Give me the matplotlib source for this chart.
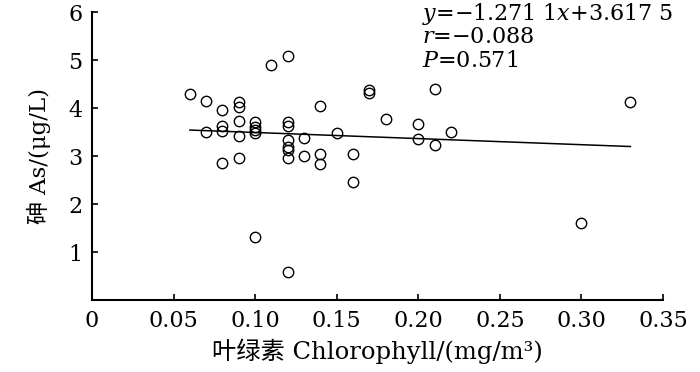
import matplotlib
matplotlib.use('Agg')
from matplotlib import pyplot as plt

plt.rcParams['font.family'] = ['DejaVu Serif', 'Noto Sans CJK SC']
plt.rcParams['mathtext.fontset'] = 'custom'
plt.rcParams['mathtext.it'] = 'DejaVu Serif:italic'
plt.rcParams['mathtext.rm'] = 'DejaVu Serif'

# chlorophyll (mg/m3) and arsenic (ug/L)
chl = [0.06, 0.07, 0.07, 0.08, 0.08, 0.08, 0.08,
       0.09, 0.09, 0.09, 0.09, 0.09,
       0.10, 0.10, 0.10, 0.10, 0.10,
       0.11, 0.12, 0.12, 0.12, 0.12, 0.12, 0.12, 0.12, 0.12,
       0.13, 0.13, 0.14, 0.14, 0.14, 0.15, 0.16, 0.16,
       0.17, 0.17, 0.18, 0.20, 0.20, 0.21, 0.21, 0.22,
       0.30, 0.33]
arsenic = [4.30, 4.15, 3.50, 3.95, 3.62, 3.52, 2.85,
           4.12, 4.03, 3.73, 3.42, 2.95,
           3.70, 3.61, 3.54, 3.47, 1.32,
           4.90, 5.08, 3.70, 3.62, 3.33, 3.19, 3.12, 2.95, 0.58,
           3.38, 2.99, 4.05, 3.04, 2.83, 3.47, 3.05, 2.45,
           4.37, 4.31, 3.77, 3.66, 3.35, 4.39, 3.22, 3.49,
           1.60, 4.12]

slope, intercept = -1.2711, 3.6175
fit_x = [0.06, 0.33]
xticks = [0, 0.05, 0.10, 0.15, 0.20, 0.25, 0.30, 0.35]
xtick_labels = ['0', '0.05', '0.10', '0.15', '0.20', '0.25', '0.30', '0.35']
yticks = [1, 2, 3, 4, 5, 6]

fig = plt.figure(figsize=(7, 3.72), dpi=100)
ax = fig.add_axes([0.1314, 0.1935, 0.8157, 0.7742])

ax.plot(chl, arsenic, 'o', mfc='none', mec='black', ms=7.5, mew=1.0)
ax.plot(fit_x, [slope * v + intercept for v in fit_x], color='black', lw=1.1)

ax.set_xlim(0, 0.35)
ax.set_ylim(0, 6)
ax.set_xticks(xticks)
ax.set_xticklabels(xtick_labels)
ax.set_yticks(yticks)
ax.tick_params(direction='in', length=4, width=1.2, labelsize=16)
ax.tick_params(axis='x', pad=7)
ax.tick_params(axis='y', pad=7)
for s in ['top', 'right']:
    ax.spines[s].set_visible(False)
for s in ['left', 'bottom']:
    ax.spines[s].set_linewidth(1.5)

ax.set_xlabel('叶绿素 Chlorophyll/(mg/m³)', fontsize=17.5, labelpad=5)
ax.set_ylabel('砷 As/(μg/L)', fontsize=16.5, labelpad=12)

tx = 0.2023
ax.text(tx, 5.95, '$y$=−1.271 1$x$+3.617 5', fontsize=16, va='center')
ax.text(tx, 5.47, '$r$=−0.088', fontsize=16, va='center')
ax.text(tx, 4.98, '$P$=0.571', fontsize=16, va='center')

fig.savefig('out.png', dpi=100)
